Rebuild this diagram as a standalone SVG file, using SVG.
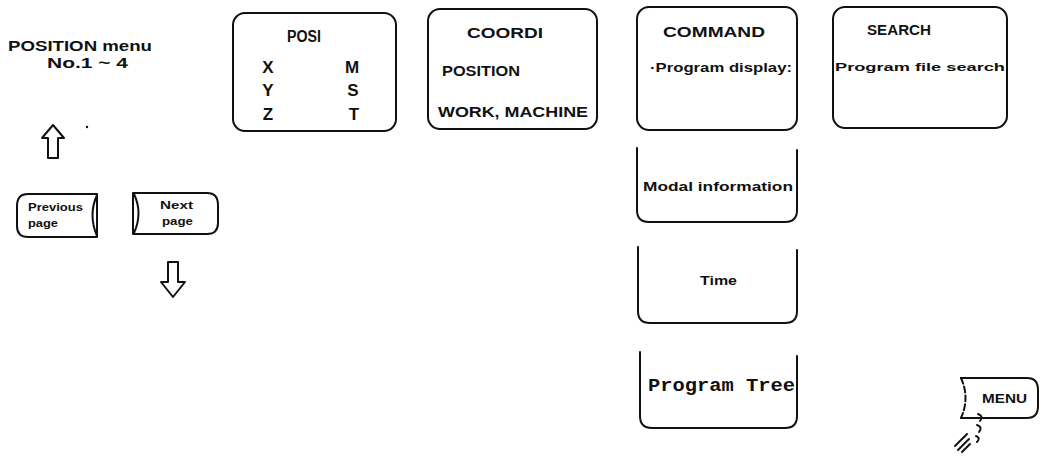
<svg xmlns="http://www.w3.org/2000/svg" width="1040" height="471" viewBox="0 0 1040 471">
<style>
.b{fill:none;stroke:#111;stroke-width:2;stroke-linecap:round;stroke-linejoin:round}
.t{font-family:"Liberation Sans",Arial,sans-serif;font-weight:bold;fill:#111}
.m{font-family:"Liberation Mono","Courier New",monospace;font-weight:bold;fill:#111}
</style>
<rect width="1040" height="471" fill="#fff"/>
<g id="position-menu">
<text class="t" x="8" y="51" font-size="14" textLength="144" lengthAdjust="spacingAndGlyphs">POSITION menu</text>
<text class="t" x="47" y="68" font-size="14" textLength="81" lengthAdjust="spacingAndGlyphs">No.1 ~ 4</text>
</g>
<g id="arrows">
<polygon class="b" points="53,125 64,138 58,138 58,158 48,158 48,138 42,138"/>
<circle cx="87" cy="127" r="1.2" fill="#111"/>
<polygon class="b" points="168,262 178,262 178,282 185,282 173,297 161,282 168,282"/>
</g>
<g id="previous-page">
<path class="b" d="M97,194 H28 Q17,194 17,206 V226 Q17,237 28,237 H97 Z"/>
<path class="b" d="M97,195 Q88,215 97,236"/>
<text class="t" x="28" y="211" font-size="11" textLength="55" lengthAdjust="spacingAndGlyphs">Previous</text>
<text class="t" x="28" y="227" font-size="11" textLength="30" lengthAdjust="spacingAndGlyphs">page</text>
</g>
<g id="next-page">
<path class="b" d="M133,193 H207 Q218,193 218,205 V223 Q218,234 207,234 H133 Z"/>
<path class="b" d="M134,194 Q143,213 134,233"/>
<text class="t" x="160" y="209" font-size="11" textLength="33" lengthAdjust="spacingAndGlyphs">Next</text>
<text class="t" x="162" y="225" font-size="11" textLength="31" lengthAdjust="spacingAndGlyphs">page</text>
</g>
<g id="posi">
<rect class="b" x="233" y="13" width="163" height="118" rx="12"/>
<text class="t" x="304" y="42" font-size="16" text-anchor="middle" textLength="34" lengthAdjust="spacingAndGlyphs">POSI</text>
<g font-size="17" text-anchor="middle">
<text class="t" x="268" y="73">X</text>
<text class="t" x="268" y="96">Y</text>
<text class="t" x="268" y="120">Z</text>
<text class="t" x="352" y="73">M</text>
<text class="t" x="353" y="96">S</text>
<text class="t" x="354" y="120">T</text>
</g>
</g>
<g id="coordi">
<rect class="b" x="428" y="9" width="169" height="120" rx="12"/>
<text class="t" x="505" y="38" font-size="15" text-anchor="middle" textLength="76" lengthAdjust="spacingAndGlyphs">COORDI</text>
<text class="t" x="442" y="76" font-size="14" textLength="78" lengthAdjust="spacingAndGlyphs">POSITION</text>
<text class="t" x="438" y="117" font-size="14" textLength="150" lengthAdjust="spacingAndGlyphs">WORK, MACHINE</text>
</g>
<g id="command">
<rect class="b" x="637" y="7" width="160" height="123" rx="12"/>
<text class="t" x="663" y="37" font-size="14" textLength="102" lengthAdjust="spacingAndGlyphs">COMMAND</text>
<text class="t" x="650" y="72" font-size="12" textLength="142" lengthAdjust="spacingAndGlyphs">·Program display:</text>
</g>
<g id="modal-information">
<path class="b" d="M637,148 V210 Q637,222 649,222 H785 Q797,222 797,210 V150"/>
<text class="t" x="643" y="191" font-size="12" textLength="150" lengthAdjust="spacingAndGlyphs">Modal information</text>
</g>
<g id="time">
<path class="b" d="M638,247 V311 Q638,323 650,323 H785 Q797,323 797,311 V250"/>
<text class="t" x="700" y="285" font-size="12" textLength="37" lengthAdjust="spacingAndGlyphs">Time</text>
</g>
<g id="program-tree">
<path class="b" d="M640,352 V416 Q640,428 652,428 H785 Q797,428 797,416 V356"/>
<text class="m" x="648" y="391" font-size="19" textLength="147" lengthAdjust="spacingAndGlyphs">Program Tree</text>
</g>
<g id="search">
<rect class="b" x="833" y="7" width="174" height="121" rx="12"/>
<text class="t" x="867" y="35" font-size="14" textLength="64" lengthAdjust="spacingAndGlyphs">SEARCH</text>
<text class="t" x="835" y="71" font-size="11.5" textLength="170" lengthAdjust="spacingAndGlyphs">Program file search</text>
</g>
<g id="menu">
<path class="b" d="M961,378 H1027 Q1038,378 1038,390 V406 Q1038,418 1027,418 H961"/>
<path class="b" d="M961,378 Q970,398 961,418" stroke-dasharray="6 3"/>
<text class="t" x="982" y="403" font-size="12" textLength="45" lengthAdjust="spacingAndGlyphs">MENU</text>
<g class="b" stroke-width="1.5">
<path d="M978,414 q6,2 2,7"/>
<path d="M977,425 q6,2 2,7"/>
<path d="M976,436 q5,2 1,6"/>
<path d="M955,446 l12,-12"/>
<path d="M958,450 l11,-11"/>
<path d="M962,452 l8,-8"/>
</g>
</g>
</svg>
